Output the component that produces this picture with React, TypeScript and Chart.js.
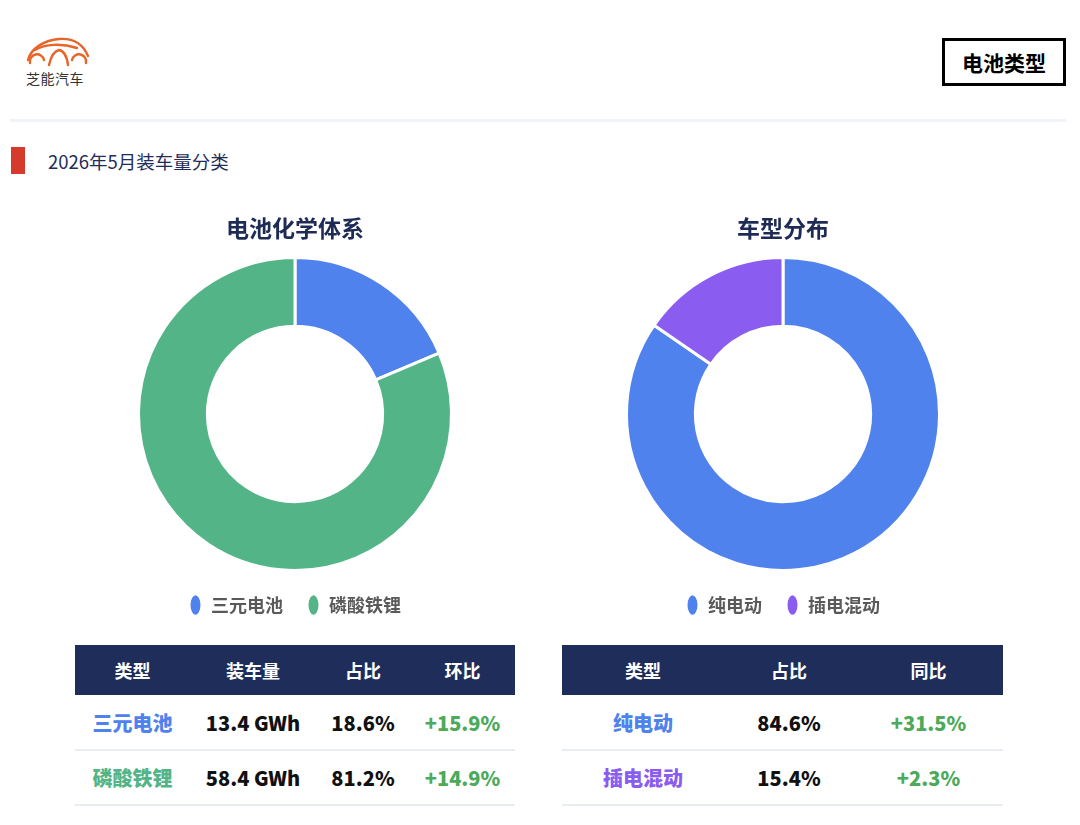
import React, { useEffect, useRef } from "react";
import { Chart, registerables } from "chart.js";
Chart.register(...registerables);

const FONT = "'Noto Sans CJK SC', 'Noto Sans', sans-serif";

const pageTitle = "2026年5月装车量分类";
const badgeText = "电池类型";

const chemistryTitle = "电池化学体系";
const chemistryLabels = ["三元电池", "磷酸铁锂"];
const chemistryShares = [18.6, 81.2];
const chemistryVolumes = ["13.4 GWh", "58.4 GWh"];
const chemistryMoM = ["+15.9%", "+14.9%"];
const chemistryColors = ["#4f82ec", "#53b587"];
const chemistryHeaders = ["类型", "装车量", "占比", "环比"];

const vehicleTitle = "车型分布";
const vehicleLabels = ["纯电动", "插电混动"];
const vehicleShares = [84.6, 15.4];
const vehicleYoY = ["+31.5%", "+2.3%"];
const vehicleColors = ["#4f82ec", "#8a5cf0"];
const vehicleHeaders = ["类型", "占比", "同比"];

function Donut(props: { title: string; labels: string[]; values: number[]; colors: string[]; left: number }) {
  const ref = useRef<HTMLCanvasElement>(null);
  useEffect(() => {
    const chart = new Chart(ref.current as HTMLCanvasElement, {
      type: "doughnut",
      data: {
        labels: props.labels,
        datasets: [
          {
            data: props.values,
            backgroundColor: props.colors,
            borderColor: "#ffffff",
            borderWidth: 3,
            hoverOffset: 0,
          },
        ],
      },
      options: {
        responsive: false,
        animation: false,
        cutout: "56%",
        plugins: {
          title: {
            display: true,
            text: props.title,
            color: "#1e2b55",
            font: { size: 23, weight: "bold", family: FONT },
            padding: { top: 14.2, bottom: 14.2 },
          },
          legend: {
            position: "bottom",
            labels: {
              usePointStyle: true,
              pointStyle: "circle",
              pointStyleWidth: 13,
              boxHeight: 16,
              padding: 24,
              color: "#5a5a5a",
              font: { size: 18, weight: 600, family: FONT },
            },
          },
          tooltip: { enabled: false },
        },
      } as any,
    });
    return () => chart.destroy();
  }, []);
  return (
    <canvas
      ref={ref}
      width={400}
      height={424}
      style={{ position: "absolute", left: props.left, top: 200, width: 400, height: 424 }}
    />
  );
}

function DataTable(props: {
  left: number;
  widths: number[];
  headers: string[];
  rows: { text: string; color: string }[][];
}) {
  const total = props.widths.reduce((a, b) => a + b, 0);
  return (
    <table
      style={{
        position: "absolute",
        left: props.left,
        top: 645,
        width: total,
        borderCollapse: "collapse",
        tableLayout: "fixed",
        fontFamily: FONT,
      }}
    >
      <colgroup>
        {props.widths.map((w, i) => (
          <col key={i} style={{ width: w }} />
        ))}
      </colgroup>
      <thead>
        <tr style={{ background: "#1f2d5a", height: 50 }}>
          {props.headers.map((h, i) => (
            <th key={i} style={{ color: "#ffffff", fontSize: 18, fontWeight: 700, padding: 0, textAlign: "center" }}>
              {h}
            </th>
          ))}
        </tr>
      </thead>
      <tbody>
        {props.rows.map((r, ri) => (
          <tr key={ri} style={{ height: 55, borderBottom: "2px solid #e9edf3" }}>
            {r.map((c, ci) => (
              <td key={ci} style={{ color: c.color, fontSize: 20, fontWeight: 900, padding: 0, textAlign: "center" }}>
                {c.text}
              </td>
            ))}
          </tr>
        ))}
      </tbody>
    </table>
  );
}

function Logo() {
  return (
    <div style={{ position: "absolute", left: 25, top: 36, width: 70, height: 56 }}>
      <svg width={66} height={32} viewBox="0 0 66 32" style={{ position: "absolute", left: 0, top: 0 }}>
        <g fill="none" stroke="#e8652a" strokeWidth={2.4} strokeLinecap="round">
          <path d="M3 24 C6 12, 20 4, 34 3 C48 2, 58 8, 63 20" />
          <path d="M10 14 C20 8, 36 7, 52 12" />
          <path d="M5 27 A7 7 0 1 1 19 24" />
          <path d="M47 24 A7 7 0 1 1 61 27" />
          <path d="M24 29 C26 20, 30 15, 34 14 C39 15, 42 21, 43 29" />
        </g>
      </svg>
      <div style={{ position: "absolute", left: 1, top: 32, fontSize: 14, color: "#333", fontFamily: FONT, whiteSpace: "nowrap", letterSpacing: 0.5 }}>
        芝能汽车
      </div>
    </div>
  );
}

export default function App() {
  const green = "#4caa5a";
  const chemRows = chemistryLabels.map((lab, i) => [
    { text: lab, color: chemistryColors[i] },
    { text: chemistryVolumes[i], color: "#111111" },
    { text: chemistryShares[i].toFixed(1) + "%", color: "#111111" },
    { text: chemistryMoM[i], color: green },
  ]);
  const vehRows = vehicleLabels.map((lab, i) => [
    { text: lab, color: vehicleColors[i] },
    { text: vehicleShares[i].toFixed(1) + "%", color: "#111111" },
    { text: vehicleYoY[i], color: green },
  ]);
  return (
    <div
      style={{
        position: "absolute",
        left: 0,
        top: 0,
        width: 1080,
        height: 825,
        background: "#ffffff",
        overflow: "hidden",
        fontFamily: FONT,
      }}
    >
      <Logo />
      <div
        style={{
          position: "absolute",
          left: 942,
          top: 38,
          width: 118,
          height: 42,
          border: "3px solid #000",
          display: "flex",
          alignItems: "center",
          justifyContent: "center",
          fontSize: 21,
          fontWeight: 700,
          color: "#000",
        }}
      >
        {badgeText}
      </div>
      <div style={{ position: "absolute", left: 10, top: 119, width: 1056, height: 3, background: "#f0f4f8" }} />
      <div style={{ position: "absolute", left: 11, top: 147, width: 14, height: 27, background: "#d63a2c" }} />
      <div
        style={{
          position: "absolute",
          left: 48,
          top: 148,
          fontSize: 18.5,
          lineHeight: "26px",
          color: "#1f2d5a",
          whiteSpace: "nowrap",
        }}
      >
        {pageTitle}
      </div>
      <Donut title={chemistryTitle} labels={chemistryLabels} values={chemistryShares} colors={chemistryColors} left={95} />
      <Donut title={vehicleTitle} labels={vehicleLabels} values={vehicleShares} colors={vehicleColors} left={583} />
      <DataTable left={75} widths={[115, 126, 94, 105]} headers={chemistryHeaders} rows={chemRows} />
      <DataTable left={562} widths={[162, 130, 149]} headers={vehicleHeaders} rows={vehRows} />
    </div>
  );
}
